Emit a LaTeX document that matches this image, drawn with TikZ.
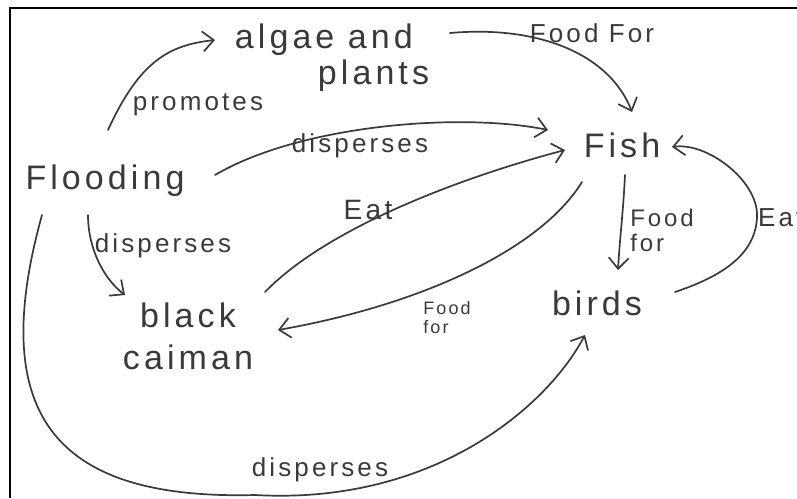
\documentclass[tikz,border=0pt]{standalone}
\usepackage{fontspec}
\setmainfont{Liberation Sans}[LetterSpace=12]
\usetikzlibrary{arrows.meta}
\definecolor{pencil}{HTML}{3A3A3A}
\begin{document}
\begin{tikzpicture}[x=1pt,y=-1pt,
  concept/.style={inner sep=0pt,text=pencil,font=\fontsize{34pt}{36pt}\selectfont},
  lbl/.style={inner sep=0pt,text=pencil,font=\fontsize{26pt}{28pt}\selectfont},
  smalllbl/.style={inner sep=0pt,text=pencil,align=left},
  link/.style={draw=pencil,line width=1.7pt,line cap=round,
    -{Straight Barb[length=11pt,width=20pt,line width=1.7pt]}},
  frameline/.style={draw=black,line width=1.2pt}]
\useasboundingbox (0,0) rectangle (797,498);
\clip (0,0) rectangle (797,498);
\fill[white] (0,0) rectangle (797,498);
\draw[frameline] (797,8) -- (10,8) -- (10,498);

% concepts
\node[concept,align=left] (algae) at (332,58) {algae and\\\hspace*{83pt}plants};
\node[concept] (fish) at (622,145) {Fish};
\node[concept] (flood) at (105,181) {Flooding};
\node[concept] (birds) at (597,303) {birds};
\node[concept,align=center] (caiman) at (188,336) {black\\[6pt]caiman};

% connectors
\draw[link] ([shift={(3,-51)}]flood.center) .. controls +(32,-70) and +(-45,5) .. ([shift={(-117,-18)}]algae.center);
\draw[link] ([shift={(118,-25)}]algae.center) .. controls +(90,-8) and +(-22,-57) .. ([shift={(10,-33)}]fish.center);
\draw[link] ([shift={(110,-6)}]flood.center) .. controls +(85,-50) and +(-88,-18) .. ([shift={(-74,-15)}]fish.center);
\draw[link] ([shift={(77,-44)}]caiman.center) .. controls +(65,-67) and +(-95,25) .. ([shift={(-57,5)}]fish.center);
\draw[link] ([shift={(-40,37)}]fish.center) .. controls +(-42,68) and +(142,-25) .. ([shift={(90,-6)}]caiman.center);
\draw[link] ([shift={(-17,34)}]flood.center) .. controls +(0,35) and +(-20,-15) .. ([shift={(-63,-41)}]caiman.center);
\draw[link] ([shift={(-63,34)}]flood.center) .. controls +(-57,205) and +(-195,5) .. ++(213,280)
  .. controls +(175,10) and +(-40,75) .. ([shift={(-12,32)}]birds.center);
\draw[link] ([shift={(3,30)}]fish.center) .. controls +(-2,40) and +(2,-35) .. ([shift={(21,-33)}]birds.center);
\draw[link] ([shift={(78,-11)}]birds.center) .. controls +(45,-15) and +(0,40) .. ++(82,-77)
  .. controls +(0,-35) and +(35,-5) .. ([shift={(50,2)}]fish.center);

% labels
\node[lbl] (lpromotes) at (198,105) {promotes};
\node[lbl] (lfoodtop) at (592,33) {Food For};
\node[lbl] (ldisptop) at (360,146) {disperses};
\node[lbl,font=\fontsize{28pt}{30pt}\selectfont] (leat) at (368,210) {Eat};
\node[smalllbl,font=\fontsize{18pt}{19pt}\selectfont] (lfoodcai) at (447,318) {Food\\for};
\node[lbl] (ldispleft) at (163,246) {disperses};
\node[smalllbl,font=\fontsize{24pt}{25pt}\selectfont] (lfoodbirds) at (662,230) {Food\\for};
\node[lbl] (ldispbot) at (320,470) {disperses};
\node[lbl,anchor=west] (leatright) at (758,218) {Eat};
\end{tikzpicture}
\end{document}
